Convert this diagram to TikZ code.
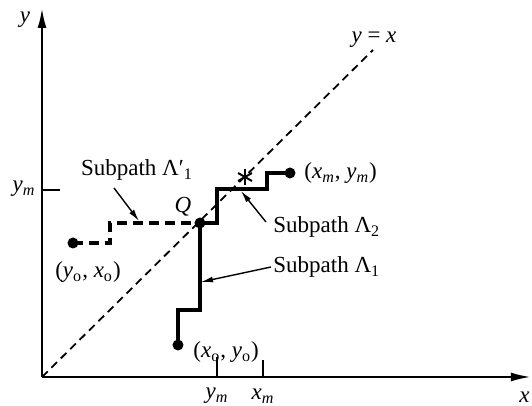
\documentclass[tikz,border=0pt]{standalone}
\usepackage{fontspec}
\setmainfont{Liberation Serif}
\usetikzlibrary{arrows.meta,calc}
\newcommand{\vr}[1]{\textit{#1}}
\newcommand{\ssub}[1]{\textsubscript{#1}}
\tikzset{
  axis/.style={-{Latex[length=10pt,width=4.5pt]},line width=1.2pt},
  diag/.style={dash pattern=on 4pt off 2.6pt,line width=0.9pt},
  solidpath/.style={line width=1.7pt},
  dashpath/.style={line width=1.7pt,dash pattern=on 5pt off 3pt},
  dot/.style={circle,fill,inner sep=0pt,minimum size=5.5pt},
  lbl/.style={font=\fontsize{11.5}{13}\selectfont,inner sep=1pt},
  callout/.style={-{Latex[length=6pt,width=3pt]},line width=0.7pt},
  axtick/.style={line width=1pt},
}
\begin{document}
\begin{tikzpicture}[x=0.5pt,y=-0.5pt]
  \useasboundingbox (0,0) rectangle (532,406);

  % axes and the line y = x
  \coordinate (O) at (42,377);
  \coordinate (ytop) at (42,8);
  \coordinate (xend) at (531,377);
  \coordinate (dtop) at (373,50);
  \draw[axis] (O) -- (ytop);
  \draw[axis] (O) -- (xend);
  \draw[diag] (O) -- (dtop);

  % ticks
  \coordinate (tyl) at (42,190);
  \coordinate (txy) at (217,377);
  \coordinate (txx) at (263,377);
  \draw[axtick] (tyl) -- ++(18,0);
  \draw[axtick] (txy) -- ++(0,-20);
  \draw[axtick] (txx) -- ++(0,-17);

  % points
  \node[dot] (x0y0) at (178,345) {};
  \node[dot] (y0x0) at (73,243) {};
  \node[dot] (Q) at (200,223) {};
  \node[dot] (xmym) at (290,173) {};
  \coordinate (star) at (245,177);

  % subpaths
  \draw[solidpath] (x0y0.center) -- ++(0,-35) -| (Q.center);
  \draw[solidpath] (Q.center) -- ++(17,0) -- ++(0,-34) -- ++(50,0) |- (xmym.center);
  \draw[dashpath] (y0x0.center) -- ++(37,0) |- (Q.center);
  \foreach \a in {90,30,150}
    \draw[line width=1pt] ([shift={(\a:8)}]star) -- ([shift={(\a+180:8)}]star);

  % labels
  \node[lbl] (ylab) at (25,20) {\vr{y}};
  \node[lbl] (yx) at (374,40) {\vr{y} = \vr{x}};
  \node[lbl] (ymL) at (24,189) {\vr{y}\ssub{\vr{m}}};
  \node[lbl] (ymB) at (217,396) {\vr{y}\ssub{\vr{m}}};
  \node[lbl] (xmB) at (263,396) {\vr{x}\ssub{\vr{m}}};
  \node[lbl,anchor=east] (xlab) at (532,397) {\vr{x}};
  \node[lbl] (Qlab) at (183,207) {\vr{Q}};
  \node[lbl,anchor=west] (xmymlab) at (302,173) {(\vr{x}\ssub{\vr{m}}, \vr{y}\ssub{\vr{m}})};
  \node[lbl,anchor=west] (x0y0lab) at (191,352) {(\vr{x}\ssub{o}, \vr{y}\ssub{o})};
  \node[lbl] (y0x0lab) at (88,272) {(\vr{y}\ssub{o}, \vr{x}\ssub{o})};
  \node[lbl] (lamp) at (137,170) {Subpath Λ′\ssub{1}};
  \node[lbl,anchor=west] (lam2) at (271,227) {Subpath Λ\ssub{2}};
  \node[lbl,anchor=west] (lam1) at (271,267) {Subpath Λ\ssub{1}};

  % callouts
  \coordinate (pp) at (139,221);
  \coordinate (p2) at (241,191);
  \coordinate (p1) at (201,282);
  \draw[callout] ([shift={(-23,18)}]lamp.center) -- (pp);
  \draw[callout] ([shift={(-5,-5)}]lam2.west) -- (p2);
  \draw[callout] (lam1.west) -- (p1);
\end{tikzpicture}
\end{document}
